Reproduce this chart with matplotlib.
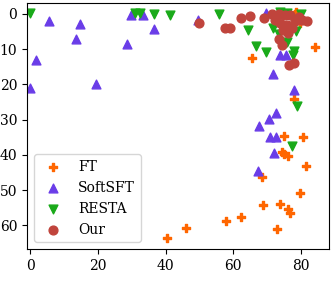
import matplotlib
matplotlib.use("Agg")
import matplotlib.pyplot as plt

plt.rcParams["font.family"] = "DejaVu Serif"
plt.rcParams["font.size"] = 10

# (x, y)
ft_x = [84.2, 65.5, 77.9, 74.4, 75.1, 76.3, 81.6, 68.4, 79.6, 68.9, 73.7,
        76.3, 76.9, 62.4, 57.9, 72.9, 46.1, 40.4, 75.0, 80.5, 78.3, 79.6, 78.4]
ft_y = [9.4, 12.4, 24.0, 39.3, 39.7, 40.3, 43.1, 46.3, 50.9, 54.3, 54.0,
        55.3, 56.4, 57.5, 58.8, 60.9, 60.6, 63.6, 34.5, 34.8, 0.0, 2.7, -0.4]

soft_x = [5.6, 14.6, 13.4, 28.7, 1.6, -0.1, 19.5, 29.8, 33.2, 36.6, 49.5,
          69.7, 73.8, 75.5, 71.7, 77.9, 72.7, 70.7, 67.7, 70.9, 72.7, 71.9,
          67.4, 77.8]
soft_y = [2.0, 2.9, 7.2, 8.4, 13.1, 21.0, 20.0, 0.2, 0.2, 4.4, 1.6,
          -0.3, 11.7, 11.7, 17.1, 21.6, 28.2, 29.8, 31.7, 34.8, 34.8, 39.5,
          44.6, 3.7]

resta_x = [0.0, 31.0, 32.5, 36.6, 41.4, 55.7, 64.3, 66.8, 69.7, 71.7, 73.5,
           75.8, 77.9, 77.6, 78.6, 80.1, 78.8, 77.5, 73.9, 76.0]
resta_y = [-0.3, -0.3, -0.3, 0.0, 0.4, 0.0, 4.6, 9.1, 10.8, 4.1, 5.6,
           7.9, 10.5, 11.7, 4.8, 0.0, 26.1, 37.4, -0.5, -0.2]

our_x = [49.9, 57.6, 59.1, 62.3, 65.0, 69.0, 71.4, 73.4, 75.3, 76.8, 79.3,
         81.7, 72.4, 73.9, 75.8, 74.8, 77.3, 76.3, 73.4, 74.4, 78.3, 80.3,
         76.6, 78.0]
our_y = [2.7, 4.1, 4.1, 1.3, 0.6, 1.3, 0.0, 0.0, 0.4, 0.4, 0.8,
         2.0, 1.8, 2.7, 3.2, 4.6, 4.1, 5.3, 7.0, 8.9, 2.0, 1.8,
         14.5, 13.8]

fig = plt.figure(figsize=(3.32, 2.9), dpi=100)
ax = fig.add_axes([0.081, 0.141, 0.91, 0.85])

ax.scatter(ft_x, ft_y, marker="P", s=40, color="#ff6600", label="FT")
ax.scatter(soft_x, soft_y, marker="^", s=40, color="#6a3de8", label="SoftSFT")
ax.scatter(resta_x, resta_y, marker="v", s=40, color="#1aaa1a", label="RESTA")
ax.scatter(our_x, our_y, marker="o", s=40, color="#c0443c", label="Our")

ax.set_xlim(-1, 88.3)
ax.set_ylim(66.7, -3.2)
ax.set_xticks([0, 20, 40, 60, 80])
ax.set_yticks([0, 10, 20, 30, 40, 50, 60])
ax.legend(loc="lower left")

fig.savefig("out.png", dpi=100)
